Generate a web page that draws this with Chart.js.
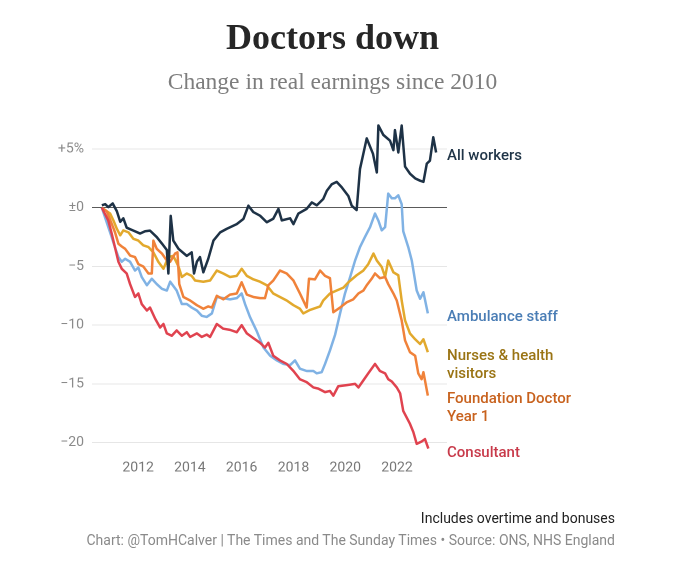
<!DOCTYPE html>
<html>
<head>
<meta charset="utf-8">
<script src="https://cdn.jsdelivr.net/npm/chart.js@4"></script>
<style>
  html, body { margin:0; padding:0; background:#fff; }
  #wrap { position:relative; width:680px; height:568px; overflow:hidden; }
  #c { position:absolute; left:0; top:0; }
  .t { position:absolute; white-space:nowrap; }
  #title { left:0; width:665px; top:19px; text-align:center; font:bold 36px "Liberation Serif", serif; line-height:36px; color:#262626; }
  #sub { left:0; width:665px; top:70px; text-align:center; font:23.5px "Liberation Serif", serif; line-height:23.5px; color:#7d7d7d; }
  .lab { left:447px; font:500 15px Roboto, sans-serif; line-height:17.7px; }
  .foot { right:65px; font:14px Roboto, sans-serif; line-height:14px; }
</style>
</head>
<body>
<div id="wrap">
  <canvas id="c" width="680" height="568"></canvas>
  <div class="t" id="title">Doctors down</div>
  <div class="t" id="sub">Change in real earnings since 2010</div>
  <div class="t lab" style="top:147px;color:#1f3447">All workers</div>
  <div class="t lab" style="top:308px;color:#4a7db5">Ambulance staff</div>
  <div class="t lab" style="top:347px;color:#9a7414">Nurses &amp; health<br>visitors</div>
  <div class="t lab" style="top:390px;color:#c8621e">Foundation Doctor<br>Year 1</div>
  <div class="t lab" style="top:444px;color:#c83a4a">Consultant</div>
  <div class="t foot" style="top:511px;color:#222">Includes overtime and bonuses</div>
  <div class="t foot" style="top:533px;color:#8a8a8a">Chart: @TomHCalver | The Times and The Sunday Times • Source: ONS, NHS England</div>
</div>
<script>
// Decimal-year dates and % change values
const allWorkersDates = [2010.60,2010.73,2010.85,2011.02,2011.18,2011.31,2011.43,2011.56,2011.82,2012.08,2012.27,2012.46,2012.72,2012.92,2013.11,2013.17,2013.26,2013.36,2013.56,2013.88,2014.07,2014.16,2014.27,2014.39,2014.52,2014.71,2014.91,2015.17,2015.42,2015.81,2016.07,2016.26,2016.45,2016.71,2016.97,2017.22,2017.42,2017.55,2017.87,2018.00,2018.19,2018.51,2018.71,2018.90,2019.15,2019.29,2019.48,2019.67,2019.86,2020.12,2020.25,2020.44,2020.57,2020.83,2021.07,2021.22,2021.28,2021.47,2021.73,2021.86,2021.92,2022.05,2022.18,2022.31,2022.50,2022.70,2022.89,2023.02,2023.15,2023.27,2023.40,2023.51];
const allWorkers = [0.2,0.3,0.05,0.36,-0.3,-1.2,-0.9,-1.7,-1.95,-2.2,-2.0,-1.95,-2.5,-3.05,-3.6,-5.6,-0.7,-2.8,-3.5,-4.1,-3.8,-5.6,-4.6,-4.2,-5.5,-4.35,-2.8,-2.1,-1.8,-1.4,-0.95,0.17,-0.37,-0.68,-1.24,-0.94,-0.1,-1.08,-0.9,-1.4,-0.5,-0.1,0.45,0.2,0.74,1.44,2.0,2.2,1.75,1.0,0.17,-0.2,3.3,5.9,4.6,3.0,7.0,6.2,5.7,4.9,6.6,4.7,7.0,3.5,2.9,2.5,2.3,2.2,3.75,4.0,6.0,4.7];

const ambulanceDates = [2010.60,2010.85,2010.98,2011.11,2011.24,2011.37,2011.50,2011.69,2011.88,2012.01,2012.14,2012.34,2012.53,2012.72,2012.92,2013.11,2013.24,2013.49,2013.69,2013.88,2014.07,2014.27,2014.46,2014.65,2014.85,2015.04,2015.29,2015.55,2015.81,2016.00,2016.13,2016.32,2016.58,2016.84,2017.10,2017.36,2017.61,2017.87,2018.06,2018.25,2018.51,2018.77,2018.90,2019.09,2019.22,2019.41,2019.61,2019.80,2019.99,2020.19,2020.38,2020.57,2020.76,2020.96,2021.15,2021.28,2021.41,2021.54,2021.66,2021.80,2021.92,2022.05,2022.18,2022.24,2022.44,2022.57,2022.76,2022.89,2023.02,2023.19];
const ambulance = [0,-1.65,-2.5,-3.4,-4.2,-4.6,-4.35,-4.6,-5.35,-5.1,-5.9,-6.6,-6.05,-6.5,-6.9,-7.05,-6.3,-7.05,-8.2,-8.2,-8.5,-8.75,-9.2,-9.3,-9.0,-7.6,-7.7,-7.8,-7.7,-7.3,-8.2,-9.3,-10.5,-11.9,-12.6,-13.0,-13.3,-13.4,-13.0,-13.7,-13.9,-13.9,-14.1,-14.0,-13.3,-12.15,-10.8,-9.0,-7.3,-5.9,-4.5,-3.35,-2.5,-1.65,-0.5,-1.1,-1.93,-1.65,1.2,0.8,0.8,1.05,0.3,-2.0,-3.4,-4.5,-7.05,-7.75,-7.2,-9.0];

const nursesDates = [2010.60,2010.79,2010.92,2011.05,2011.18,2011.31,2011.43,2011.63,2011.82,2012.01,2012.20,2012.40,2012.59,2012.78,2012.98,2013.17,2013.36,2013.56,2013.69,2013.88,2014.07,2014.20,2014.52,2014.78,2015.04,2015.29,2015.55,2015.81,2016.00,2016.20,2016.45,2016.71,2016.97,2017.22,2017.48,2017.74,2018.00,2018.25,2018.38,2018.64,2019.03,2019.15,2019.41,2019.67,2019.93,2020.12,2020.44,2020.70,2020.89,2021.09,2021.22,2021.41,2021.54,2021.66,2021.86,2022.05,2022.18,2022.31,2022.50,2022.70,2022.89,2023.02,2023.19];
const nurses = [0,-0.3,-0.5,-1.1,-1.8,-2.35,-1.93,-2.1,-2.65,-2.8,-3.2,-3.35,-3.8,-4.6,-5.2,-4.2,-4.1,-5.0,-5.9,-5.6,-5.8,-6.2,-6.3,-6.2,-5.35,-5.6,-5.9,-5.8,-5.2,-5.8,-6.1,-6.3,-6.6,-7.3,-7.6,-7.9,-8.3,-8.6,-9.0,-8.7,-8.4,-7.9,-7.3,-7.05,-6.8,-6.35,-5.75,-5.35,-4.8,-3.9,-4.5,-5.05,-5.9,-4.5,-5.5,-5.75,-7.9,-9.6,-10.7,-11.2,-11.6,-11.2,-12.3];

const foundationDates = [2010.60,2010.79,2010.98,2011.11,2011.24,2011.37,2011.50,2011.69,2011.88,2012.01,2012.20,2012.40,2012.53,2012.59,2012.72,2012.92,2013.11,2013.24,2013.43,2013.52,2013.59,2013.75,2014.01,2014.27,2014.52,2014.71,2014.85,2015.04,2015.29,2015.55,2015.81,2016.00,2016.20,2016.45,2016.71,2016.90,2017.03,2017.22,2017.48,2017.74,2018.00,2018.25,2018.51,2018.60,2018.83,2019.03,2019.22,2019.41,2019.54,2019.80,2020.06,2020.31,2020.51,2020.70,2020.83,2021.02,2021.15,2021.34,2021.54,2021.66,2021.86,2021.99,2022.18,2022.31,2022.50,2022.70,2022.82,2022.95,2023.02,2023.19];
const foundation = [0,-0.3,-1.36,-2.1,-3.07,-3.3,-3.5,-4.07,-4.2,-4.8,-5.0,-5.6,-5.6,-2.8,-3.5,-3.9,-4.5,-4.6,-3.9,-3.8,-6.5,-7.6,-7.9,-8.3,-8.6,-8.4,-8.5,-7.5,-7.8,-7.4,-7.3,-6.35,-7.4,-7.6,-7.7,-7.7,-6.6,-6.2,-5.35,-5.6,-6.2,-7.3,-8.5,-6.05,-6.1,-5.35,-5.8,-6.0,-8.9,-8.5,-8.05,-7.8,-7.3,-7.05,-6.6,-6.05,-5.6,-6.0,-5.9,-6.5,-7.3,-7.9,-9.6,-11.3,-12.3,-12.6,-14.1,-14.6,-14.0,-16.0];

const consultantDates = [2010.60,2010.85,2010.98,2011.11,2011.24,2011.37,2011.56,2011.69,2011.88,2012.01,2012.14,2012.34,2012.46,2012.66,2012.85,2012.98,2013.11,2013.30,2013.49,2013.69,2013.88,2014.01,2014.27,2014.46,2014.65,2014.78,2015.04,2015.29,2015.55,2015.81,2016.00,2016.20,2016.45,2016.71,2016.90,2017.03,2017.22,2017.48,2017.74,2018.00,2018.25,2018.51,2018.77,2018.96,2019.22,2019.41,2019.54,2019.73,2020.06,2020.38,2020.51,2020.70,2020.89,2021.15,2021.34,2021.54,2021.66,2021.80,2021.99,2022.12,2022.24,2022.50,2022.63,2022.76,2022.95,2023.08,2023.21];
const consultant = [0,-1.1,-2.2,-3.4,-4.6,-5.2,-5.6,-6.5,-7.6,-7.3,-8.2,-8.75,-8.5,-9.45,-10.2,-9.9,-10.7,-10.9,-10.45,-10.9,-10.6,-11.0,-10.7,-11.0,-10.8,-11.0,-9.9,-10.3,-10.4,-10.6,-10.0,-10.7,-11.1,-11.5,-11.9,-11.5,-12.6,-13.0,-13.3,-13.9,-14.6,-14.85,-15.3,-15.4,-15.7,-15.6,-16.0,-15.2,-15.1,-15.0,-15.3,-14.7,-14.1,-13.3,-13.9,-14.1,-14.6,-14.8,-15.3,-15.8,-17.3,-18.4,-19.1,-20.1,-19.9,-19.7,-20.5];

const xTicks = [2012, 2014, 2016, 2018, 2020, 2022];
const yTicks = [-20, -15, -10, -5, 0, 5];
const yTickLabels = ['\u221220', '\u221215', '\u221210', '\u22125', '\u00B10', '+5%'];

function pts(d, v) { return d.map((x, i) => ({ x: x, y: v[i] })); }
function ds(label, d, v, color) {
  return { label, data: pts(d, v), borderColor: color, borderWidth: 2.5, pointRadius: 0, tension: 0, fill: false, borderJoinStyle: 'round' };
}

new Chart(document.getElementById('c'), {
  type: 'line',
  data: {
    datasets: [
      ds('All workers', allWorkersDates, allWorkers, '#1e3246'),
      ds('Consultant', consultantDates, consultant, '#e0434f'),
      ds('Foundation Doctor Year 1', foundationDates, foundation, '#f0823a'),
      ds('Nurses & health visitors', nursesDates, nurses, '#e2a92d'),
      ds('Ambulance staff', ambulanceDates, ambulance, '#80b2e4')
    ]
  },
  options: {
    responsive: false,
    animation: false,
    devicePixelRatio: 2,
    layout: { padding: { left: 0, right: 233, top: 119.6, bottom: 83.6 } },
    plugins: { legend: { display: false }, tooltip: { enabled: false }, title: { display: false } },
    scales: {
      x: {
        type: 'linear', min: 2010.22, max: 2023.93,
        afterBuildTicks: s => { s.ticks = xTicks.map(v => ({ value: v })); },
        afterFit: s => { s.height = 30; },
        grid: { display: false, drawTicks: false },
        border: { display: false },
        ticks: { color: '#777', font: { family: 'Roboto', size: 14 }, padding: 5, maxRotation: 0, callback: v => String(v) }
      },
      y: {
        min: -21, max: 7.5,
        afterBuildTicks: s => { s.ticks = yTicks.map(v => ({ value: v })); },
        afterFit: s => { s.width = 92; },
        grid: { drawTicks: false, color: c => (c.tick && c.tick.value === 0) ? '#5a5a5a' : '#e6e6e6', lineWidth: 1 },
        border: { display: false },
        ticks: { color: '#8a8a8a', font: { family: 'Roboto', size: 14 }, padding: 8,
          callback: v => yTickLabels[yTicks.indexOf(v)] }
      }
    }
  }
});
</script>
</body>
</html>
